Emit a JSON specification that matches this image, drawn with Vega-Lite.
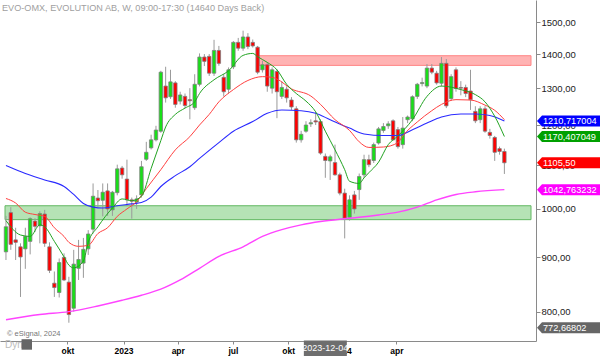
{
"$schema":"https://vega.github.io/schema/vega-lite/v6.json",
"width":536,"height":341,
"autosize":{"type":"none"},
"padding":{"left":0,"top":0,"right":64,"bottom":16},
"background":"white",
"config":{"view":{"stroke":null},"font":"Liberation Sans"},
"title":{"text":"EVO-OMX, EVOLUTION AB, W, 09:00-17:30 (14640 Days Back)","anchor":"start","frame":"group","orient":"top","offset":0,"baseline":"alphabetic","dx":2,"dy":20,"fontSize":9.15,"fontWeight":"normal","color":"#a0a0a0","font":"Liberation Sans"},
"datasets":{
"candles":[
{"i":0,"o":911,"h":985,"l":895,"c":962},{"i":1,"o":992,"h":1004,"l":915,"c":926},{"i":2,"o":935,"h":960,"l":895,"c":930},{"i":3,"o":921,"h":928,"l":826,"c":901},{"i":4,"o":917,"h":960,"l":878,"c":942},{"i":5,"o":932,"h":982,"l":906,"c":979},{"i":6,"o":974,"h":980,"l":951,"c":963},{"i":7,"o":964,"h":995,"l":928,"c":990},{"i":8,"o":989,"h":998,"l":921,"c":928},{"i":9,"o":921,"h":930,"l":870,"c":875},
{"i":10,"o":851,"h":873,"l":826,"c":843},{"i":11,"o":834,"h":898,"l":825,"c":890},{"i":12,"o":900,"h":908,"l":855,"c":857},{"i":13,"o":853,"h":863,"l":781,"c":795},{"i":14,"o":806,"h":915,"l":800,"c":887},{"i":15,"o":879,"h":935,"l":857,"c":896},{"i":16,"o":889,"h":939,"l":861,"c":916},{"i":17,"o":917,"h":955,"l":905,"c":947},{"i":18,"o":957,"h":1057,"l":948,"c":1028},{"i":19,"o":1024,"h":1042,"l":1004,"c":1018},
{"i":20,"o":1019,"h":1057,"l":984,"c":1037},{"i":21,"o":1040,"h":1057,"l":985,"c":1000},{"i":22,"o":998,"h":1040,"l":985,"c":1037},{"i":23,"o":1036,"h":1101,"l":1030,"c":1091},{"i":24,"o":1093,"h":1098,"l":1068,"c":1077},{"i":25,"o":1067,"h":1113,"l":1006,"c":1020},{"i":26,"o":1020,"h":1025,"l":979,"c":1017},{"i":27,"o":1015,"h":1030,"l":1000,"c":1022},{"i":28,"o":1031,"h":1110,"l":1025,"c":1096},{"i":29,"o":1114,"h":1157,"l":1110,"c":1131},
{"i":30,"o":1142,"h":1175,"l":1138,"c":1162},{"i":31,"o":1162,"h":1198,"l":1158,"c":1187},{"i":32,"o":1184,"h":1350,"l":1180,"c":1346},{"i":33,"o":1306,"h":1362,"l":1260,"c":1273},{"i":34,"o":1276,"h":1353,"l":1270,"c":1318},{"i":35,"o":1315,"h":1320,"l":1246,"c":1255},{"i":36,"o":1264,"h":1290,"l":1255,"c":1281},{"i":37,"o":1277,"h":1285,"l":1245,"c":1252},{"i":38,"o":1268,"h":1300,"l":1215,"c":1265},{"i":39,"o":1246,"h":1340,"l":1240,"c":1311},
{"i":40,"o":1311,"h":1402,"l":1305,"c":1391},{"i":41,"o":1391,"h":1400,"l":1364,"c":1378},{"i":42,"o":1393,"h":1400,"l":1335,"c":1343},{"i":43,"o":1343,"h":1444,"l":1335,"c":1411},{"i":44,"o":1411,"h":1425,"l":1365,"c":1372},{"i":45,"o":1331,"h":1340,"l":1277,"c":1290},{"i":46,"o":1297,"h":1360,"l":1285,"c":1353},{"i":47,"o":1362,"h":1440,"l":1355,"c":1436},{"i":48,"o":1436,"h":1450,"l":1410,"c":1418},{"i":49,"o":1418,"h":1473,"l":1410,"c":1453},
{"i":50,"o":1453,"h":1465,"l":1415,"c":1423},{"i":51,"o":1436,"h":1445,"l":1420,"c":1425},{"i":52,"o":1421,"h":1425,"l":1340,"c":1346},{"i":53,"o":1353,"h":1380,"l":1345,"c":1368},{"i":54,"o":1368,"h":1375,"l":1290,"c":1306},{"i":55,"o":1300,"h":1360,"l":1285,"c":1353},{"i":56,"o":1348,"h":1355,"l":1218,"c":1290},{"i":57,"o":1277,"h":1320,"l":1270,"c":1302},{"i":58,"o":1297,"h":1305,"l":1260,"c":1273},{"i":59,"o":1267,"h":1275,"l":1240,"c":1248},
{"i":60,"o":1243,"h":1250,"l":1155,"c":1162},{"i":61,"o":1162,"h":1185,"l":1155,"c":1176},{"i":62,"o":1184,"h":1210,"l":1180,"c":1200},{"i":63,"o":1203,"h":1215,"l":1195,"c":1206},{"i":64,"o":1211,"h":1235,"l":1200,"c":1208},{"i":65,"o":1209,"h":1215,"l":1125,"c":1129},{"i":66,"o":1121,"h":1128,"l":1070,"c":1111},{"i":67,"o":1110,"h":1125,"l":1065,"c":1120},{"i":68,"o":1106,"h":1150,"l":1075,"c":1077},{"i":69,"o":1077,"h":1082,"l":1030,"c":1035},
{"i":70,"o":1035,"h":1045,"l":938,"c":980},{"i":71,"o":982,"h":1030,"l":975,"c":1020},{"i":72,"o":1031,"h":1040,"l":990,"c":1000},{"i":73,"o":1043,"h":1080,"l":1020,"c":1073},{"i":74,"o":1077,"h":1125,"l":1070,"c":1113},{"i":75,"o":1113,"h":1125,"l":1095,"c":1101},{"i":76,"o":1111,"h":1155,"l":1105,"c":1150},{"i":77,"o":1154,"h":1195,"l":1150,"c":1190},{"i":78,"o":1186,"h":1205,"l":1180,"c":1196},{"i":79,"o":1198,"h":1210,"l":1190,"c":1203},
{"i":80,"o":1211,"h":1215,"l":1160,"c":1162},{"i":81,"o":1188,"h":1195,"l":1140,"c":1145},{"i":82,"o":1150,"h":1221,"l":1140,"c":1192},{"i":83,"o":1214,"h":1225,"l":1205,"c":1221},{"i":84,"o":1216,"h":1280,"l":1210,"c":1276},{"i":85,"o":1277,"h":1315,"l":1270,"c":1311},{"i":86,"o":1313,"h":1330,"l":1305,"c":1316},{"i":87,"o":1306,"h":1370,"l":1300,"c":1358},{"i":88,"o":1358,"h":1370,"l":1340,"c":1346},{"i":89,"o":1343,"h":1350,"l":1310,"c":1315},
{"i":90,"o":1314,"h":1391,"l":1305,"c":1372},{"i":91,"o":1372,"h":1385,"l":1245,"c":1251},{"i":92,"o":1271,"h":1340,"l":1265,"c":1333},{"i":93,"o":1353,"h":1360,"l":1290,"c":1299},{"i":94,"o":1302,"h":1320,"l":1280,"c":1300},{"i":95,"o":1302,"h":1310,"l":1275,"c":1285},{"i":96,"o":1292,"h":1353,"l":1240,"c":1268},{"i":97,"o":1236,"h":1250,"l":1205,"c":1211},{"i":98,"o":1214,"h":1250,"l":1205,"c":1243},{"i":99,"o":1243,"h":1250,"l":1180,"c":1184},
{"i":100,"o":1181,"h":1190,"l":1165,"c":1173},{"i":101,"o":1168,"h":1172,"l":1110,"c":1131},{"i":102,"o":1140,"h":1145,"l":1125,"c":1133},{"i":103,"o":1133,"h":1140,"l":1079,"c":1105.5}
],
"ma_green":[
{"i":0,"v":975},{"i":3,"v":945},{"i":5,"v":942},{"i":7,"v":966},{"i":8,"v":962},{"i":10,"v":932},{"i":12,"v":901},{"i":13,"v":885},{"i":14,"v":880},{"i":16,"v":893},{"i":17,"v":930},{"i":19,"v":962},{"i":22,"v":1002},{"i":24,"v":1022},{"i":26,"v":1018},{"i":28,"v":1028},{"i":30,"v":1092},{"i":32,"v":1160},{"i":33,"v":1195},{"i":35,"v":1228},{"i":37,"v":1245},{"i":39,"v":1262},{"i":40,"v":1285},{"i":43,"v":1324},{"i":46,"v":1350},{"i":49,"v":1396},{"i":51,"v":1402},{"i":52,"v":1392},{"i":54,"v":1375},{"i":56,"v":1353},{"i":58,"v":1311},{"i":60,"v":1285},{"i":62,"v":1264},{"i":64,"v":1235},{"i":66,"v":1184},{"i":68,"v":1137},{"i":70,"v":1089},{"i":71,"v":1062},{"i":73,"v":1057},{"i":74,"v":1070},{"i":75,"v":1082},{"i":77,"v":1107},{"i":79,"v":1150},{"i":81,"v":1172},{"i":84,"v":1214},{"i":87,"v":1277},{"i":90,"v":1306},{"i":94,"v":1296},{"i":97,"v":1282},{"i":99,"v":1262},{"i":101,"v":1223},{"i":103,"v":1170.4}
],
"ma_red":[
{"i":0,"v":1023},{"i":2,"v":1013},{"i":4,"v":993},{"i":6,"v":988},{"i":8,"v":984},{"i":10,"v":960},{"i":12,"v":942},{"i":13,"v":930},{"i":15,"v":922},{"i":17,"v":924},{"i":19,"v":948},{"i":21,"v":960},{"i":23,"v":984},{"i":25,"v":1000},{"i":27,"v":1016},{"i":29,"v":1045},{"i":32,"v":1089},{"i":35,"v":1137},{"i":38,"v":1170},{"i":40,"v":1200},{"i":42,"v":1228},{"i":44,"v":1262},{"i":47,"v":1296},{"i":50,"v":1322},{"i":53,"v":1333},{"i":55,"v":1331},{"i":56,"v":1326},{"i":59,"v":1298},{"i":63,"v":1278},{"i":65,"v":1255},{"i":68,"v":1214},{"i":71,"v":1186},{"i":73,"v":1157},{"i":75,"v":1143},{"i":78,"v":1144},{"i":81,"v":1155},{"i":82,"v":1172},{"i":85,"v":1208},{"i":88,"v":1238},{"i":90,"v":1255},{"i":93,"v":1268},{"i":96,"v":1267},{"i":99,"v":1253},{"i":101,"v":1239},{"i":103,"v":1214}
],
"ma_blue":[
{"i":0,"v":1099},{"i":4,"v":1080},{"i":8,"v":1065},{"i":12,"v":1050},{"i":14,"v":1032},{"i":16,"v":1012},{"i":18,"v":1004},{"i":20,"v":1002},{"i":23,"v":1007},{"i":26,"v":1011},{"i":28,"v":1014},{"i":30,"v":1026},{"i":32,"v":1050},{"i":35,"v":1075},{"i":38,"v":1096},{"i":40,"v":1116},{"i":44,"v":1155},{"i":47,"v":1184},{"i":51,"v":1209},{"i":54,"v":1231},{"i":57,"v":1240},{"i":61,"v":1238},{"i":64,"v":1231},{"i":67,"v":1214},{"i":71,"v":1192},{"i":74,"v":1177},{"i":78,"v":1173},{"i":81,"v":1173},{"i":84,"v":1188},{"i":87,"v":1205},{"i":90,"v":1221},{"i":94,"v":1229},{"i":97,"v":1229},{"i":100,"v":1225},{"i":103,"v":1210.7}
],
"ma_magenta":[
{"i":0,"v":786},{"i":7,"v":795},{"i":13,"v":800},{"i":19,"v":810},{"i":24,"v":820},{"i":28,"v":829},{"i":32,"v":840},{"i":36,"v":857},{"i":40,"v":879},{"i":44,"v":902},{"i":49,"v":921},{"i":53,"v":942},{"i":57,"v":956},{"i":61,"v":966},{"i":65,"v":973},{"i":69,"v":978},{"i":73,"v":982},{"i":77,"v":987},{"i":81,"v":993},{"i":85,"v":1004},{"i":89,"v":1020},{"i":93,"v":1032},{"i":97,"v":1038},{"i":103,"v":1042.8}
],
"bands":[
{"zone":"support","lo":977,"hi":1007,"start":-0.2,"end":108.5},
{"zone":"resistance","lo":1366,"hi":1395,"start":52.2,"end":108.5}
],
"tags":[
{"s":"ma50","v":1210.717004,"t":"1210,717004"},
{"s":"ma10","v":1170.407049,"t":"1170,407049"},
{"s":"last","v":1105.5,"t":"1105,50"},
{"s":"ma200","v":1042.763232,"t":"1042,763232"},
{"s":"low","v":772.66802,"t":"772,66802"}
],
"one":[{}]
},
"layer":[
{"data":{"name":"bands"},
 "mark":{"type":"rect","strokeWidth":1},
 "encoding":{
  "x":{"field":"start","type":"quantitative","scale":{"domain":[-0.2,108.5],"nice":false,"zero":false},
   "axis":{"orient":"bottom","values":[12.7,24.3,35.5,46.9,58.3,69.4,80.7],"labelExpr":"datum.value < 13 ? 'okt' : datum.value < 25 ? '2023' : datum.value < 36 ? 'apr' : datum.value < 47 ? 'jul' : datum.value < 59 ? 'okt' : datum.value < 70 ? '2024' : 'apr'","title":null,"grid":false,"domainColor":"#8a8a8a","tickColor":"#8a8a8a","tickSize":3,"labelFontSize":8.5,"labelFontWeight":"bold","labelColor":"#000000","labelPadding":2,"labelFont":"Liberation Sans","labelOverlap":false}},
  "x2":{"field":"end"},
  "y":{"field":"lo","type":"quantitative","scale":{"type":"log","domain":[750.6,1574.5],"nice":false,"zero":false},
   "axis":{"orient":"right","values":[800,900,1000,1100,1200,1300,1400,1500],"labelExpr":"replace(format(datum.value, '.2f'), '.', ',')","title":null,"grid":false,"domainColor":"#8a8a8a","tickColor":"#8a8a8a","tickSize":4,"labelFontSize":9.5,"labelColor":"#222222","labelPadding":1,"labelFont":"Liberation Sans","labelOverlap":false}},
  "y2":{"field":"hi"},
  "fill":{"field":"zone","type":"nominal","scale":{"domain":["support","resistance"],"range":["#b5e3b5","#ffb3b3"]},"legend":null},
  "stroke":{"field":"zone","type":"nominal","scale":{"domain":["support","resistance"],"range":["#62b862","#ff8585"]},"legend":null}
 }},
{"data":{"name":"candles"},
 "mark":{"type":"rule","color":"#9a9a9a","strokeWidth":1},
 "encoding":{
  "x":{"field":"i","type":"quantitative"},
  "y":{"field":"l","type":"quantitative"},
  "y2":{"field":"h"}
 }},
{"data":{"name":"candles"},
 "mark":{"type":"bar","width":3.4,"stroke":"#7d7d7d","strokeWidth":0.8},
 "encoding":{
  "x":{"field":"i","type":"quantitative"},
  "y":{"field":"o","type":"quantitative"},
  "y2":{"field":"c"},
  "fill":{"condition":{"test":"datum.c >= datum.o","value":"#18e018"},"value":"#ff0000"}
 }},
{"data":{"name":"ma_magenta"},
 "mark":{"type":"line","color":"#ff44ff","strokeWidth":1.4,"interpolate":"monotone"},
 "encoding":{"x":{"field":"i","type":"quantitative"},"y":{"field":"v","type":"quantitative"}}},
{"data":{"name":"ma_blue"},
 "mark":{"type":"line","color":"#2a2aff","strokeWidth":1.1,"interpolate":"monotone"},
 "encoding":{"x":{"field":"i","type":"quantitative"},"y":{"field":"v","type":"quantitative"}}},
{"data":{"name":"ma_red"},
 "mark":{"type":"line","color":"#ff4040","strokeWidth":1,"interpolate":"monotone"},
 "encoding":{"x":{"field":"i","type":"quantitative"},"y":{"field":"v","type":"quantitative"}}},
{"data":{"name":"ma_green"},
 "mark":{"type":"line","color":"#22a322","strokeWidth":1,"interpolate":"monotone"},
 "encoding":{"x":{"field":"i","type":"quantitative"},"y":{"field":"v","type":"quantitative"}}},
{"data":{"name":"tags"},
 "mark":{"type":"point","shape":"M-1,0L-0.844,-0.172L1,-0.172L1,0.172L-0.844,0.172Z","size":4096,"filled":true,"opacity":1,"xOffset":33,"clip":false},
 "encoding":{
  "x":{"value":"width"},
  "y":{"field":"v","type":"quantitative"},
  "color":{"field":"s","type":"nominal","scale":{"domain":["ma50","ma10","last","ma200","low"],"range":["#0000ff","#00a000","#ff0000","#ff00ff","#666666"]},"legend":null}
 }},
{"data":{"name":"tags"},
 "mark":{"type":"text","align":"left","baseline":"middle","dx":7,"fontSize":9.2,"color":"#ffffff","font":"Liberation Sans","clip":false},
 "encoding":{
  "x":{"value":"width"},
  "y":{"field":"v","type":"quantitative"},
  "text":{"field":"t"}
 }},
{"data":{"name":"one"},
 "mark":{"type":"text","text":"© eSignal, 2024","align":"left","baseline":"alphabetic","dx":2,"fontSize":7.5,"color":"#777777","font":"Liberation Sans"},
 "encoding":{"x":{"datum":-0.2,"type":"quantitative"},"y":{"datum":758,"type":"quantitative"}}},
{"data":{"name":"one"},
 "mark":{"type":"text","text":"Dyn","align":"left","baseline":"alphabetic","fontSize":10,"color":"#bbbbbb","font":"Liberation Sans","clip":false},
 "encoding":{"x":{"datum":-0.2,"type":"quantitative"},"y":{"datum":739,"type":"quantitative"}}},
{"data":{"name":"one"},
 "mark":{"type":"point","shape":"square","size":110,"filled":true,"color":"#666666","opacity":1,"clip":false},
 "encoding":{"x":{"datum":4.3,"type":"quantitative"},"y":{"datum":745,"type":"quantitative"}}},
{"data":{"name":"one"},
 "mark":{"type":"point","shape":"M-1,-0.36L1,-0.36L1,0.36L-1,0.36Z","size":1849,"filled":true,"color":"#6e6e6e","opacity":1,"clip":false},
 "encoding":{"x":{"datum":66.0,"type":"quantitative"},"y":{"datum":739,"type":"quantitative"}}},
{"data":{"name":"one"},
 "mark":{"type":"text","text":"2023-12-04","align":"center","baseline":"middle","fontSize":9,"color":"#ffffff","font":"Liberation Sans","clip":false},
 "encoding":{"x":{"datum":66.0,"type":"quantitative"},"y":{"datum":739,"type":"quantitative"}}}
]
}
